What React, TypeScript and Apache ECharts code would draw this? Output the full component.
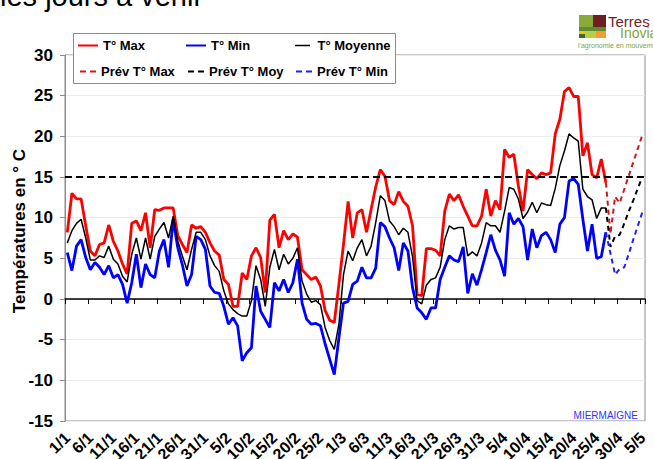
import React, { useEffect, useRef } from "react";
import * as echarts from "echarts";

const FONT = 'Arial, "Liberation Sans", Helvetica, sans-serif';

// Days from 1/1 to 5/5 (leap year)
const monthLengths = [31, 29, 31, 30, 5];
const categories: string[] = [];
monthLengths.forEach((n, m) => {
  for (let d = 1; d <= n; d++) categories.push(`${d}/${m + 1}`);
});

// Observed values 1/1 .. 27/4
const tMax = [
  8.2, 13.0, 12.3, 12.3, 9.0, 5.9, 5.3, 6.7, 6.9, 9.1,
  7.1, 5.9, 4.3, 3.1, 9.3, 9.6, 8.4, 10.6, 6.3, 11.0,
  10.9, 11.2, 11.2, 11.2, 7.8, 6.7, 5.7, 9.1, 8.7, 8.9,
  8.2, 6.9, 5.9, 5.4, 2.4, 1.8, -0.9, -0.9, 3.2, 2.4,
  5.3, 6.3, 5.1, 0.8, 9.7, 10.4, 6.3, 8.4, 7.3, 8.0,
  7.6, 3.6, 3.0, 2.4, 2.7, 1.6, -1.4, -2.6, -2.9, 1.8,
  6.7, 12.0, 7.5, 10.6, 11.0, 8.2, 11.0, 13.8, 15.9, 15.1,
  12.1, 11.6, 13.2, 12.0, 11.4, 9.0, 0.6, 0.4, 6.2, 6.2,
  6.0, 5.3, 10.8, 12.9, 12.1, 12.8, 11.4, 10.2, 9.0, 9.0,
  10.2, 13.5, 10.2, 12.1, 11.0, 18.4, 17.4, 17.8, 13.9, 10.8,
  15.9, 15.3, 14.8, 15.5, 15.3, 15.5, 20.3, 22.1, 25.5, 26.0,
  24.9, 24.9, 17.6, 19.2, 15.3, 14.9, 17.2, 14.3,
];

const tMin = [
  5.7, 3.5, 6.5, 7.3, 5.1, 3.6, 4.5, 3.9, 3.0, 4.1,
  2.6, 3.0, 1.8, -0.5, 2.0, 5.5, 1.4, 4.3, 3.0, 2.6,
  5.9, 7.3, 3.9, 9.8, 6.3, 4.2, 1.6, 3.0, 7.7, 7.3,
  6.1, 1.6, 0.8, 0.7, -0.9, -3.1, -2.3, -3.3, -7.6, -6.6,
  -6.0, 1.6, -1.5, -2.5, -3.5, 2.0, 1.0, 2.4, 0.8, 2.0,
  4.9, -0.5, -2.5, -3.1, -3.0, -3.3, -5.5, -7.4, -9.3, -4.8,
  -0.5, -0.3, 1.8, 2.2, 3.9, 2.6, 2.6, 3.8, 9.4, 8.9,
  7.5, 6.3, 3.5, 6.9, 5.9, 1.4, -1.1, -1.7, -2.5, -1.1,
  -1.1, 2.4, 3.9, 5.3, 4.8, 4.6, 6.4, 0.7, 3.1, 1.7,
  3.6, 5.7, 7.9, 6.0, 4.8, 2.8, 10.6, 9.2, 9.9, 8.9,
  4.8, 8.6, 6.3, 7.8, 8.2, 7.3, 5.7, 9.2, 10.0, 14.5,
  14.8, 14.1, 9.8, 5.9, 9.2, 5.0, 5.2, 8.2,
];

const tMoy = [
  6.9, 8.4, 9.3, 9.8, 7.5, 4.8, 4.8, 5.3, 5.1, 6.5,
  4.9, 4.3, 2.8, 2.1, 5.5, 7.5, 4.9, 7.5, 4.9, 7.7,
  8.6, 9.4, 7.5, 10.2, 7.1, 5.3, 3.6, 6.1, 8.2, 8.2,
  7.3, 5.3, 4.1, 3.4, 1.0, -0.6, -1.3, -1.8, -2.1, -2.1,
  -0.2, 4.1, 2.4, -0.9, 3.9, 6.1, 3.6, 5.5, 4.3, 5.0,
  6.3, 2.2, 0.6, -0.4, -0.2, -0.7, -3.5, -5.1, -6.2, -3.1,
  3.0, 5.9, 4.7, 6.3, 7.3, 5.3, 6.5, 9.4, 12.7, 12.1,
  9.6, 8.9, 7.9, 8.7, 8.2, 5.2, -0.2, -0.6, 1.7, 2.4,
  2.6, 3.9, 7.3, 9.0, 8.6, 8.8, 8.8, 5.3, 5.8, 5.3,
  6.9, 9.4, 9.0, 9.0, 8.2, 10.8, 13.7, 13.5, 12.3, 9.9,
  10.7, 11.9, 10.6, 11.8, 11.6, 11.5, 13.6, 16.4, 18.2, 20.3,
  19.8, 19.4, 13.5, 12.6, 12.2, 9.9, 11.2, 11.2,
];

// Forecasts 27/4 .. 5/5
const forecastStart = 117;
const prevMax = [14.3, 8.0, 12.6, 11.8, 13.5, 15.2, 16.9, 18.6, 20.3];
const prevMoy = [11.2, 6.4, 7.7, 7.9, 9.3, 10.8, 12.2, 13.7, 15.1];
const prevMin = [8.2, 5.6, 3.0, 3.7, 3.9, 5.6, 7.4, 9.1, 10.8];

const threshold = 15;
const yMin = -15;
const yMax = 30;
const yStep = 5;

const padForecast = (arr: number[]) =>
  (new Array(forecastStart).fill(null) as (number | null)[]).concat(arr);

const legendText = {
  fontSize: 13,
  fontWeight: "bold" as const,
  fontFamily: FONT,
  color: "#000",
};

const SOLID_ICON = "path://M0 0H20V2H0Z";
const DASH_ICON = "path://M0 0H6V2H0Z M10 0H16V2H10Z";

function makeLegend(
  name: string,
  left: number,
  top: number,
  icon: string,
  w: number,
  h: number
) {
  return {
    data: [name],
    left,
    top,
    padding: 0,
    icon,
    itemWidth: w,
    itemHeight: h,
    itemStyle: { borderWidth: 0 },
    selectedMode: false,
    textStyle: legendText,
    z: 6,
  };
}

export default function App() {
  const ref = useRef<HTMLDivElement>(null);

  useEffect(() => {
    if (!ref.current) return;
    const chart = echarts.init(ref.current, undefined, { renderer: "svg" });

    const option: any = {
      animation: false,
      backgroundColor: "#ffffff",
      textStyle: { fontFamily: FONT },
      grid: {
        left: 65,
        right: 8,
        top: 55,
        bottom: 38,
        containLabel: false,
        outerBoundsMode: "none",
        show: true,
        borderColor: "#8c8c8c",
        borderWidth: 1,
        backgroundColor: "transparent",
      },
      legend: [
        makeLegend("T° Max", 78, 39, SOLID_ICON, 20, 3),
        makeLegend("T° Min", 186, 39, SOLID_ICON, 20, 3),
        makeLegend("T° Moyenne", 295, 39, SOLID_ICON, 20, 1.5),
        makeLegend("Prév T° Max", 80, 65, DASH_ICON, 16, 2),
        makeLegend("Prév T° Moy", 188, 65, DASH_ICON, 16, 2),
        makeLegend("Prév T° Min", 296, 65, DASH_ICON, 16, 2),
      ],
      xAxis: [
        {
          type: "category",
          data: categories,
          boundaryGap: true,
          position: "bottom",
          axisLine: { show: false, onZero: false },
          axisTick: { show: false },
          axisLabel: {
            interval: 4,
            rotate: 45,
            margin: 14,
            fontSize: 16,
            fontWeight: "bold",
            color: "#000",
            fontFamily: FONT,
          },
          splitLine: { show: false },
        },
        {
          type: "category",
          data: categories,
          boundaryGap: true,
          position: "top",
          axisLine: {
            show: true,
            onZero: true,
            lineStyle: { color: "#000", width: 1.5 },
          },
          axisTick: {
            show: true,
            interval: 4,
            inside: true,
            length: 5,
            lineStyle: { color: "#000", width: 1 },
          },
          axisLabel: { show: false },
          splitLine: { show: false },
        },
      ],
      yAxis: {
        type: "value",
        min: yMin,
        max: yMax,
        interval: yStep,
        axisLine: { show: true, lineStyle: { color: "#8c8c8c" } },
        axisTick: { show: true, length: 5, lineStyle: { color: "#8c8c8c" } },
        axisLabel: {
          margin: 12,
          fontSize: 17,
          fontWeight: "bold",
          color: "#000",
          fontFamily: FONT,
        },
        splitLine: { show: true, lineStyle: { color: "#ececec", width: 1 } },
      },
      series: [
        {
          name: "T° Max",
          type: "line",
          data: tMax,
          symbol: "none",
          lineStyle: { color: "#ff0000", width: 2.8 },
          itemStyle: { color: "#ff0000" },
        },
        {
          name: "T° Min",
          type: "line",
          data: tMin,
          symbol: "none",
          lineStyle: { color: "#0000ff", width: 2.8 },
          itemStyle: { color: "#0000ff" },
        },
        {
          name: "T° Moyenne",
          type: "line",
          data: tMoy,
          symbol: "none",
          lineStyle: { color: "#000000", width: 1.5 },
          itemStyle: { color: "#000000" },
          markLine: {
            silent: true,
            symbol: "none",
            label: { show: false },
            lineStyle: { color: "#000", type: [7, 4], width: 2 },
            data: [{ yAxis: threshold }],
          },
        },
        {
          name: "Prév T° Max",
          type: "line",
          data: padForecast(prevMax),
          symbol: "none",
          lineStyle: { color: "#d01818", width: 2, type: [5, 4] },
          itemStyle: { color: "#d01818" },
        },
        {
          name: "Prév T° Moy",
          type: "line",
          data: padForecast(prevMoy),
          symbol: "none",
          lineStyle: { color: "#000000", width: 2, type: [5, 4] },
          itemStyle: { color: "#000000" },
        },
        {
          name: "Prév T° Min",
          type: "line",
          data: padForecast(prevMin),
          symbol: "none",
          lineStyle: { color: "#2020ff", width: 2, type: [5, 4] },
          itemStyle: { color: "#2020ff" },
        },
      ],
      graphic: [
        {
          type: "text",
          x: 0,
          y: 10,
          style: {
            text: "les jours à venir",
            fontSize: 29,
            fontFamily: FONT,
            fill: "#000",
            textVerticalAlign: "bottom",
          },
        },
        {
          type: "rect",
          z: 3,
          shape: { x: 73.5, y: 33.5, width: 322, height: 50 },
          style: { fill: "#ffffff", stroke: "#8c8c8c", lineWidth: 1 },
        },
        {
          type: "text",
          x: 19,
          y: 231,
          rotation: Math.PI / 2,
          style: {
            text: "Températures en ° C",
            textAlign: "center",
            textVerticalAlign: "middle",
            fontSize: 17,
            fontWeight: "bold",
            fontFamily: FONT,
            fill: "#000",
          },
        },
        {
          type: "text",
          x: 638,
          y: 415,
          z: 5,
          style: {
            text: "MIERMAIGNE",
            textAlign: "right",
            textVerticalAlign: "middle",
            fontSize: 10,
            fontFamily: FONT,
            fill: "#3333ff",
          },
        },
        // logo
        { type: "rect", shape: { x: 579, y: 15, width: 14, height: 12 }, style: { fill: "#8aab3c" } },
        { type: "rect", shape: { x: 593, y: 15, width: 13, height: 12 }, style: { fill: "#6e1f1f" } },
        { type: "rect", shape: { x: 579, y: 27, width: 27, height: 4 }, style: { fill: "#5e8c2e" } },
        { type: "rect", shape: { x: 579, y: 31, width: 6, height: 3 }, style: { fill: "#f2c318" } },
        { type: "rect", shape: { x: 579, y: 34, width: 6, height: 4 }, style: { fill: "#3f6b25" } },
        { type: "rect", shape: { x: 585, y: 31, width: 11, height: 7 }, style: { fill: "#b5cf4a" } },
        { type: "rect", shape: { x: 596, y: 31, width: 10, height: 7 }, style: { fill: "#f0a030" } },
        {
          type: "text",
          x: 608,
          y: 21,
          style: {
            text: "Terres",
            fontSize: 15,
            fontFamily: FONT,
            fill: "#6e1f1f",
            textVerticalAlign: "middle",
          },
        },
        {
          type: "text",
          x: 620,
          y: 33,
          style: {
            text: "Inovia",
            fontSize: 14,
            fontFamily: FONT,
            fill: "#7fa536",
            textVerticalAlign: "middle",
          },
        },
        {
          type: "text",
          x: 578,
          y: 45,
          style: {
            text: "l'agronomie en mouvement",
            fontSize: 7,
            fontFamily: FONT,
            fill: "#7fa536",
            textVerticalAlign: "middle",
          },
        },
      ],
    };

    chart.setOption(option);
    return () => chart.dispose();
  }, []);

  return (
    <div
      ref={ref}
      style={{
        position: "fixed",
        left: 0,
        top: 0,
        width: 653,
        height: 459,
        background: "#fff",
      }}
    />
  );
}
